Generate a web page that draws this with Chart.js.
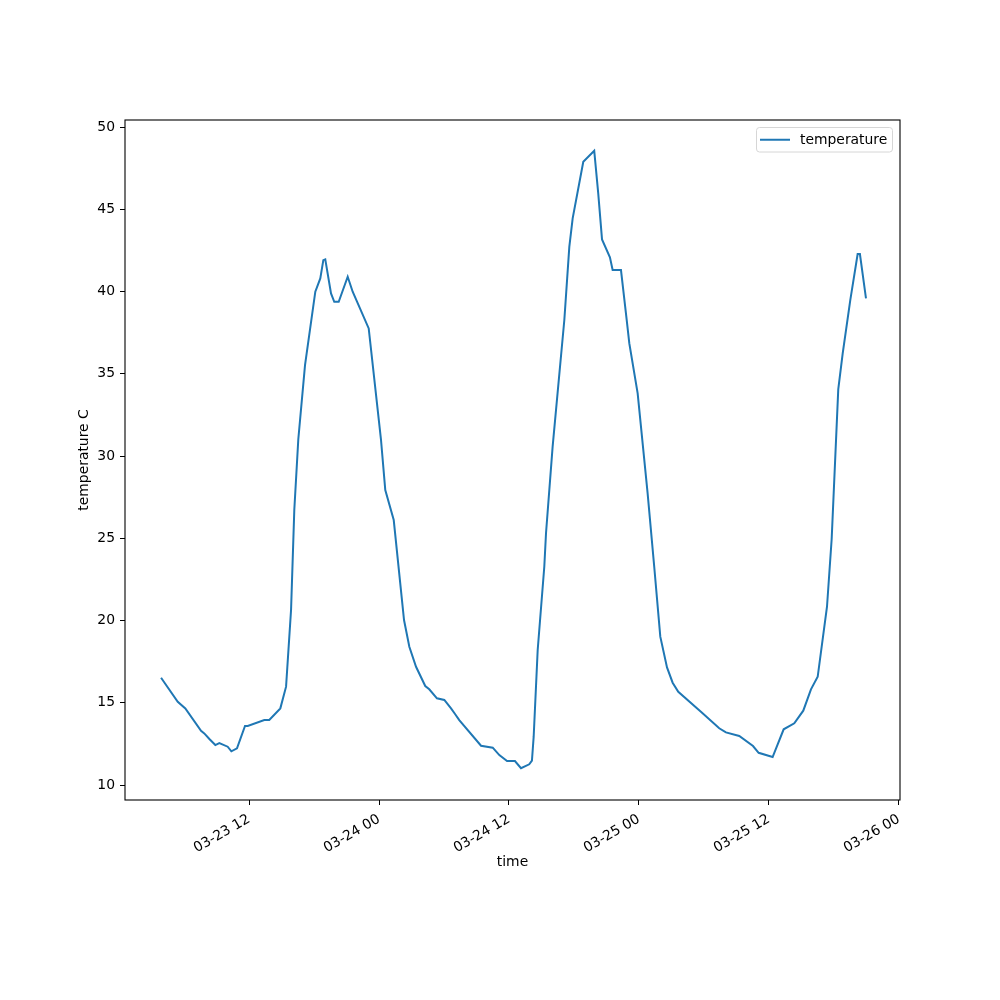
<!DOCTYPE html>
<html>
<head>
<meta charset="utf-8">
<script src="https://cdn.jsdelivr.net/npm/chart.js@4"></script>
<style>
  body { margin: 0; background: #fff; }
  canvas { display: block; }
</style>
</head>
<body>
<canvas id="chart" width="1000" height="1000"></canvas>
<script>
// hours since 03-23 00:00
const hours = [
  3.88, 5.42, 6.12, 7.57, 7.87, 8.34, 8.89, 9.26, 10.03, 10.37, 10.89, 11.63, 11.88,
  13.41, 13.87, 14.89, 15.42, 15.88, 16.18, 16.55, 17.17, 18.12, 18.58, 18.86, 19.04,
  19.57, 19.87, 20.28, 21.11, 21.57, 23.05, 24.18, 24.58, 25.36, 26.31, 26.80, 27.42,
  28.27, 28.64, 29.35, 30.03, 30.65, 31.02, 31.41, 33.42, 34.50, 35.11, 35.82, 36.55,
  37.11, 37.87, 38.12, 38.28, 38.65, 39.26, 39.42, 40.03, 41.11, 41.57, 41.88, 42.86,
  43.87, 44.24, 44.59, 45.32, 45.57, 46.34, 46.87, 47.11, 47.88, 48.80, 49.41, 49.97,
  50.59, 51.11, 51.63, 53.72, 55.41, 56.03, 57.26, 58.53, 59.05, 60.34, 61.36, 62.34,
  63.17, 63.88, 64.50, 65.36, 65.79, 66.40, 66.81, 67.51, 68.19, 68.40, 68.96
];
const temperature = [
  16.52, 15.06, 14.66, 13.30, 13.14, 12.80, 12.43, 12.55, 12.33, 12.05, 12.23, 13.59, 13.59,
  13.95, 13.95, 14.66, 15.98, 20.64, 26.72, 31.02, 35.53, 39.99, 40.80, 41.91, 41.96,
  39.89, 39.38, 39.38, 40.90, 39.99, 37.76, 31.02, 27.93, 26.11, 20.03, 18.41, 17.19,
  16.02, 15.82, 15.27, 15.17, 14.66, 14.32, 13.95, 12.39, 12.27, 11.82, 11.46, 11.46,
  11.02, 11.26, 11.48, 12.94, 18.21, 23.27, 25.32, 30.57, 38.27, 42.72, 44.45, 47.89,
  48.56, 45.97, 43.17, 42.08, 41.31, 41.31, 38.27, 36.85, 33.81, 27.73, 23.27, 19.02,
  17.15, 16.22, 15.67, 14.46, 13.45, 13.20, 12.98, 12.37, 11.96, 11.70, 13.39, 13.75,
  14.52, 15.82, 16.58, 20.84, 24.94, 34.05, 36.24, 39.48, 42.28, 42.28, 39.59
];
const xTickHours = [12, 24, 36, 48, 60, 72];
const xTickLabels = ['03-23 12', '03-24 00', '03-24 12', '03-25 00', '03-25 12', '03-26 00'];
const yTicks = [10, 15, 20, 25, 30, 35, 40, 45, 50];

const FONT = 'DejaVu Sans';
const FS = 13.9;

const frameAndLegend = {
  id: 'frameAndLegend',
  afterDatasetsDraw(chart) {
    const ctx = chart.ctx;
    const a = chart.chartArea;
    ctx.save();
    // axes frame
    ctx.strokeStyle = '#000';
    ctx.lineWidth = 1.1;
    ctx.strokeRect(a.left, a.top, a.right - a.left, a.bottom - a.top);

    // legend box
    const bx = 756.5, by = 127.5, bw = 136, bh = 24.5, r = 3;
    ctx.beginPath();
    ctx.moveTo(bx + r, by);
    ctx.lineTo(bx + bw - r, by);
    ctx.quadraticCurveTo(bx + bw, by, bx + bw, by + r);
    ctx.lineTo(bx + bw, by + bh - r);
    ctx.quadraticCurveTo(bx + bw, by + bh, bx + bw - r, by + bh);
    ctx.lineTo(bx + r, by + bh);
    ctx.quadraticCurveTo(bx, by + bh, bx, by + bh - r);
    ctx.lineTo(bx, by + r);
    ctx.quadraticCurveTo(bx, by, bx + r, by);
    ctx.closePath();
    ctx.fillStyle = 'rgba(255,255,255,0.8)';
    ctx.fill();
    ctx.strokeStyle = '#d6d6d6';
    ctx.lineWidth = 1;
    ctx.stroke();

    const ds = chart.data.datasets[0];
    const ly = by + bh / 2;
    ctx.beginPath();
    ctx.moveTo(760, ly);
    ctx.lineTo(790, ly);
    ctx.strokeStyle = ds.borderColor;
    ctx.lineWidth = 2;
    ctx.stroke();
    ctx.fillStyle = '#000';
    ctx.font = FS + 'px "' + FONT + '"';
    ctx.textBaseline = 'middle';
    ctx.textAlign = 'left';
    ctx.fillText(ds.label, 800, ly + 0.5);
    ctx.restore();
  }
};

const ctx = document.getElementById('chart').getContext('2d');
new Chart(ctx, {
  type: 'line',
  data: {
    datasets: [{
      label: 'temperature',
      data: hours.map((h, i) => ({ x: h, y: temperature[i] })),
      borderColor: '#1f77b4',
      backgroundColor: '#1f77b4',
      borderWidth: 2,
      pointRadius: 0,
      tension: 0,
      fill: false
    }]
  },
  options: {
    responsive: false,
    animation: false,
    devicePixelRatio: 1,
    layout: { padding: { left: 0, top: 120, right: 100, bottom: 0 } },
    plugins: {
      legend: { display: false },
      tooltip: { enabled: false }
    },
    scales: {
      x: {
        type: 'linear',
        min: 0.55,
        max: 72.1,
        afterBuildTicks: (s) => { s.ticks = xTickHours.map(v => ({ value: v })); },
        afterFit: (s) => { s.height = 200; },
        grid: { drawOnChartArea: false, drawTicks: true, tickLength: 5, color: '#000', lineWidth: 1 },
        border: { display: false },
        ticks: {
          minRotation: 30,
          maxRotation: 30,
          padding: 6,
          color: '#000',
          font: { family: FONT, size: FS },
          callback: (v) => xTickLabels[xTickHours.indexOf(v)]
        },
        title: {
          display: true,
          text: 'time',
          color: '#000',
          font: { family: FONT, size: FS },
          padding: { top: 0, bottom: 129 }
        }
      },
      y: {
        type: 'linear',
        min: 9.09,
        max: 50.43,
        afterBuildTicks: (s) => { s.ticks = yTicks.map(v => ({ value: v })); },
        afterFit: (s) => { s.width = 125; },
        grid: { drawOnChartArea: false, drawTicks: true, tickLength: 5, color: '#000', lineWidth: 1 },
        border: { display: false },
        ticks: {
          padding: 5,
          color: '#000',
          font: { family: FONT, size: FS },
          callback: (v) => String(v)
        },
        title: {
          display: true,
          text: 'temperature C',
          color: '#000',
          font: { family: FONT, size: FS },
          padding: { top: 76, bottom: 0 }
        }
      }
    }
  },
  plugins: [frameAndLegend]
});
</script>
</body>
</html>
